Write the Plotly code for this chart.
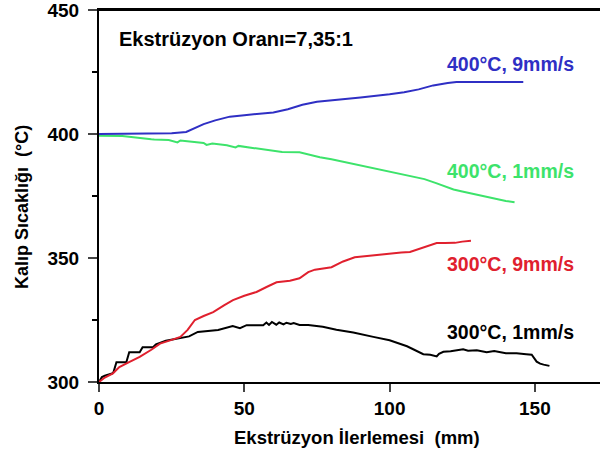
import plotly.graph_objects as go

# 400°C, 9mm/s
blue_x = [0, 10, 20, 25, 30, 33, 36, 40, 45, 50, 55, 60, 65, 70, 75, 80, 90, 100, 105, 110, 115, 120, 123, 130, 140, 146]
blue_y = [400, 400, 400, 400.3, 400.8, 402.3, 404, 405.5, 407, 407.6, 408.2, 408.7, 410, 411.8, 413, 413.5, 414.7, 416, 416.8, 418, 419.6, 420.6, 421, 421, 421, 421]

# 400°C, 1mm/s
green_x = [0, 8, 18, 19, 24, 27, 28, 32, 36, 37, 39, 44, 47, 48, 52, 57, 63, 69, 72, 76, 80, 84, 88, 92, 96, 100, 104, 108, 112, 116, 119, 122, 125, 128, 131, 134, 137, 140, 143]
green_y = [399.3, 399.2, 397.9, 397.8, 397.6, 396.6, 397.4, 396.8, 396.4, 395.6, 396.2, 395.5, 394.6, 395.2, 394.6, 393.8, 392.7, 392.6, 391.7, 390.6, 389.8, 388.8, 387.8, 386.9, 386.0, 385.0, 383.9, 383.0, 381.8, 380.2, 378.8, 377.6, 376.8, 376.0, 375.2, 374.3, 373.6, 373.0, 372.5]

# 300°C, 9mm/s
red_x = [0, 2, 4.8, 7, 10, 14, 18, 21, 25, 28, 30.5, 33, 36, 39.3, 43, 46.1, 50, 54.2, 58, 61.1, 65.7, 69, 72, 74.3, 80, 84, 88, 94, 100, 104, 107, 112, 116.2, 119, 122.5, 125, 128]
red_y = [300, 301.8, 303.5, 306, 307.8, 310.1, 313, 315.5, 317, 318.2, 321, 325, 326.6, 328.2, 330.9, 333, 334.8, 336.3, 338.5, 340.2, 340.8, 341.8, 344.3, 345.3, 346.3, 348.6, 350.3, 351, 352, 352.2, 352.4, 354.5, 356, 356, 356.1, 356.6, 357]

# 300°C, 1mm/s
black_x = [0, 1, 2, 4.5, 5, 6, 9.4, 10.4, 14, 15, 18.6, 19.6, 23, 27.8, 31, 34, 41, 46, 48.5, 50.8, 56.5, 57.6, 58.5, 59.5, 61, 62, 63.5, 64.5, 66, 67, 69, 72, 77, 81.7, 87.5, 94.4, 100, 106, 109.3, 111.6, 114, 116.2, 117, 118.5, 121, 125.3, 127, 130, 133.4, 136, 140, 143.7, 147, 148.9, 150.6, 151.8, 153, 155]
black_y = [300, 302, 302.5, 303.4, 304, 308, 308, 312, 312, 314, 314, 315.2, 316.6, 317.6, 318.4, 320.2, 321, 322.6, 321.7, 322.9, 322.9, 324, 323, 324.2, 323.1, 324, 323.2, 323.9, 323.4, 323.8, 323, 323, 322.3, 321.1, 320, 318.2, 316.8, 314.4, 312.4, 311.2, 311, 310.3, 311.4, 312.2, 312.4, 313.2, 312.6, 312.8, 312, 312.5, 311.6, 311.6, 311.2, 311, 308.2, 307.4, 307, 306.5]

x_ticks = [0, 50, 100, 150]
y_ticks = [300, 350, 400, 450]
y_minor_ticks = [325, 375, 425]

FONT = "Liberation Sans, Arial, sans-serif"
BLUE = "#2f2fc4"
GREEN = "#3de36b"
RED = "#e0202e"
BLACK = "#000000"

fig = go.Figure()
for xs, ys, col in [(black_x, black_y, BLACK), (red_x, red_y, RED), (green_x, green_y, GREEN), (blue_x, blue_y, BLUE)]:
    fig.add_trace(go.Scatter(x=xs, y=ys, mode="lines", line=dict(color=col, width=2), showlegend=False))

labels = [
    ("400°C, 9mm/s", 428.1, BLUE),
    ("400°C, 1mm/s", 385.0, GREEN),
    ("300°C, 9mm/s", 347.5, RED),
    ("300°C, 1mm/s", 320.0, BLACK),
]
for txt, yv, col in labels:
    fig.add_annotation(x=164.2, y=yv, xref="x", yref="y", text=txt, showarrow=False,
                       xanchor="right", yanchor="middle",
                       font=dict(family=FONT, size=19.5, color=col, weight="bold"))

fig.add_annotation(x=6.2, y=438.5, xref="x", yref="y", text="Ekstrüzyon Oranı=7,35:1", showarrow=False,
                   xanchor="left", yanchor="middle",
                   font=dict(family=FONT, size=20, color="black", weight="bold"))

fig.add_annotation(x=-0.154, y=0.47, xref="paper", yref="paper", text="Kalıp Sıcaklığı  (°C)", textangle=-90,
                   showarrow=False, xanchor="center", yanchor="middle",
                   font=dict(family=FONT, size=18, color="black", weight="bold"))
fig.add_annotation(x=0.515, y=-0.148, xref="paper", yref="paper", text="Ekstrüzyon İlerlemesi  (mm)",
                   showarrow=False, xanchor="center", yanchor="middle",
                   font=dict(family=FONT, size=18.5, color="black", weight="bold"))

# top frame line
fig.add_shape(type="line", xref="paper", yref="paper", x0=0, x1=1, y0=1, y1=1,
              line=dict(color="black", width=2))

fig.update_layout(
    width=600, height=454,
    margin=dict(l=99, r=0, t=10, b=72, autoexpand=False),
    plot_bgcolor="white", paper_bgcolor="white",
    xaxis=dict(range=[0, 172.4], tickvals=x_ticks, ticks="outside", ticklen=8, tickwidth=2,
               showline=True, linewidth=2, linecolor="black", mirror=True, showgrid=False, zeroline=False,
               automargin=False, ticklabeloverflow="allow",
               tickfont=dict(family=FONT, size=19, color="black", weight="bold")),
    yaxis=dict(range=[300, 450], tickvals=y_ticks, ticks="outside", ticklen=9, tickwidth=2,
               showline=True, linewidth=2, linecolor="black", showgrid=False, zeroline=False,
               automargin=False, ticklabeloverflow="allow", ticklabelstandoff=5,
               minor=dict(tickmode="array", tickvals=y_minor_ticks, ticks="outside", ticklen=5, tickwidth=2,
                          tickcolor="black", showgrid=False),
               tickfont=dict(family=FONT, size=19, color="black", weight="bold")),
)

fig.write_html("out.html", config={"displayModeBar": False},
               post_script="document.body.style.margin='0';document.body.style.overflow='hidden';")
